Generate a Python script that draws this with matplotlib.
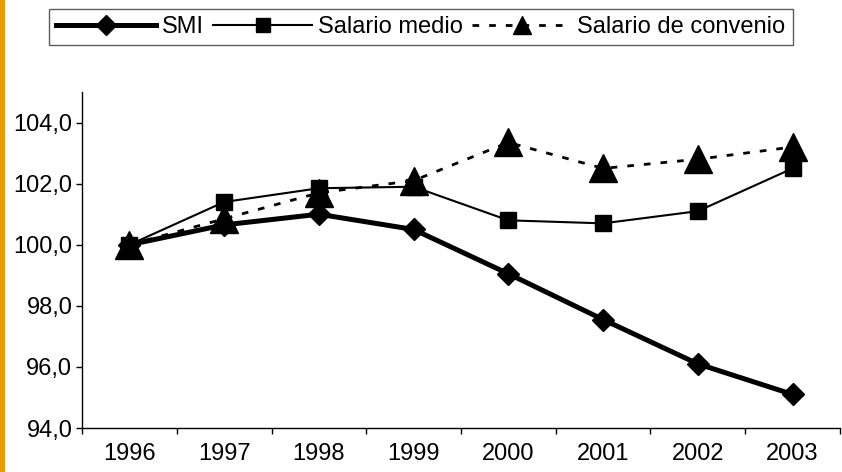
"""
SMI vs salario medio vs salario de convenio (indices, 1996 = 100)
"""

import matplotlib
matplotlib.use("Agg")
import matplotlib.pyplot as plt
from matplotlib.lines import Line2D
from matplotlib.patches import Rectangle
import numpy as np


years = ['1996', '1997', '1998', '1999', '2000', '2001', '2002', '2003']
smi = [100.0, 100.65, 101.0, 100.5, 99.05, 97.55, 96.1, 95.1]
salario_medio = [100.0, 101.4, 101.85, 101.9, 100.8, 100.7, 101.1, 102.5]
salario_convenio = [100.0, 100.85, 101.7, 102.1, 103.35, 102.5, 102.8, 103.2]
labels = ['SMI', 'Salario medio', 'Salario de convenio']
yticks = [94.0, 96.0, 98.0, 100.0, 102.0, 104.0]


def main():
    plt.rcParams['font.family'] = ['Liberation Sans', 'DejaVu Sans']
    fig = plt.figure(figsize=(8.42, 4.72), dpi=100)
    ax = fig.add_axes([0.0974, 0.0932, 0.9002, 0.7118])

    x = np.arange(len(years))
    dash = (0, (2.4, 3.6))
    ax.plot(x, smi, color='black', lw=3.6, marker='D', ms=11.5, zorder=3)
    ax.plot(x, salario_medio, color='black', lw=1.5, marker='s', ms=12, zorder=4)
    ax.plot(x, salario_convenio, color='black', lw=2, linestyle=dash,
            marker='^', ms=20, zorder=5)

    ax.set_xlim(-0.5, len(years) - 0.5)
    ax.set_ylim(94.0, 105.0)
    ax.set_yticks(yticks)
    ax.set_yticklabels([f"{v:.1f}".replace('.', ',') for v in yticks])
    ax.set_xticks(x)
    ax.set_xticklabels(years)
    ax.set_xticks(np.arange(len(years) + 1) - 0.5, minor=True)
    ax.tick_params(axis='x', which='major', length=0, pad=11, labelsize=17)
    ax.tick_params(axis='x', which='minor', length=4, width=1, direction='out')
    ax.tick_params(axis='y', length=4, width=1, pad=3, labelsize=17)
    for side in ['top', 'right']:
        ax.spines[side].set_visible(False)
    for side in ['left', 'bottom']:
        ax.spines[side].set_linewidth(1)

    handles = [
        Line2D([], [], color='black', lw=3.6, marker='D', ms=10),
        Line2D([], [], color='black', lw=1.5, marker='s', ms=10),
        Line2D([], [], color='black', lw=2, linestyle=dash, marker='^', ms=13),
    ]
    leg = fig.legend(handles, labels, loc='center', bbox_to_anchor=(0.5, 0.942),
                     ncol=3, fontsize=17, frameon=True, fancybox=False,
                     handlelength=4.2, handletextpad=0.25, columnspacing=0.4,
                     borderpad=0.3, borderaxespad=0)
    leg.get_frame().set_edgecolor('#333333')
    leg.get_frame().set_linewidth(1)

    # orange strip on left edge
    fig.patches.append(Rectangle((0, 0), 4 / 842, 1, transform=fig.transFigure,
                                 color='#E69F00', zorder=0))

    fig.savefig('out.png', dpi=100)


if __name__ == "__main__":
    main()
